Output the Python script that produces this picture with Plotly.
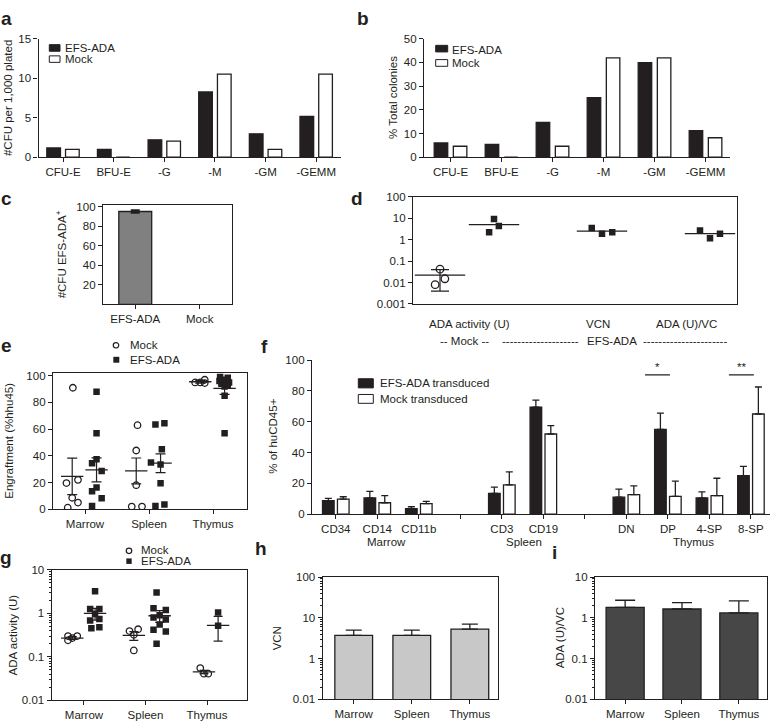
import plotly.graph_objects as go

# ===================== DATA =====================
# panel a : #CFU per 1,000 plated
A_CATS = ["CFU-E", "BFU-E", "-G", "-M", "-GM", "-GEMM"]
A_EFS = [1.17, 1.0, 2.2, 8.28, 2.96, 5.16]
A_MOCK = [1.0, 0.0, 2.04, 10.53, 1.0, 10.53]
A_YTICKS = [0, 5, 10, 15]

# panel b : % total colonies
B_CATS = ["CFU-E", "BFU-E", "-G", "-M", "-GM", "-GEMM"]
B_EFS = [6.0, 5.4, 14.7, 25.1, 39.9, 11.2]
B_MOCK = [4.6, 0.0, 4.6, 41.9, 41.9, 8.2]
B_YTICKS = [0, 10, 20, 30, 40, 50]

# panel c : #CFU EFS-ADA+
C_CATS = ["EFS-ADA", "Mock"]
C_VALS = [95.0, None]
C_ERR = [1.0, None]
C_YTICKS = [20, 40, 60, 80, 100]

# panel d : log scatter
D_SLOTS = ["Mock ADA", "EFS ADA", "", "EFS VCN", "", "EFS ADA/VC"]
D_MOCK_ADA = [0.042, 0.015, 0.008]
D_EFS_ADA = [2.2, 9.1, 4.3]
D_EFS_VCN = [3.5, 1.9, 2.2]
D_EFS_RATIO = [2.7, 1.17, 1.9]
D_MEANS = {"Mock ADA": 0.022, "EFS ADA": 5.0, "EFS VCN": 2.5, "EFS ADA/VC": 1.9}
D_MOCK_SD = 0.018
D_YTICKS = [0.001, 0.01, 0.1, 1, 10, 100]
D_YTEXT = ["0.001", "0.01", "0.1", "1", "10", "100"]

# panel e : engraftment
E_TISSUES = ["Marrow", "Spleen", "Thymus"]
E_MOCK = [[91, 22, 19.6, 8.6, 5, 1.2], [63, 44, 18, 2, 2], [95, 95, 97, 94.5]]
E_EFS = [[88, 57, 34.4, 37.5, 28.7, 16.3, 13.5, 8.3, 2.5],
         [63.4, 64.4, 45, 35, 33.5, 19.5, 2.5, 3.5],
         [99, 98.5, 97, 96, 95, 94, 93, 92, 85, 57]]
E_MOCK_MEAN = [24.6, 28.7, 95.5]
E_MOCK_SEM = [13.7, 9.7, 1.0]
E_EFS_MEAN = [29.5, 34.5, 90.5]
E_EFS_SEM = [9.0, 7.0, 4.5]
E_YTICKS = [0, 20, 40, 60, 80, 100]

# panel f : % of huCD45+
F_CATS = ["CD34", "CD14", "CD11b", "", "CD3", "CD19", "", "DN", "DP", "4-SP", "8-SP"]
F_EFS = [8.7, 10.5, 3.5, 13.5, 69.5, 11.0, 55.0, 10.5, 25.0]
F_EFS_ERR = [1.5, 4.3, 1.3, 4.0, 4.5, 5.3, 10.5, 4.0, 6.0]
F_MOCK = [9.8, 7.4, 6.8, 19.0, 52.0, 12.7, 11.5, 12.0, 65.0]
F_MOCK_ERR = [1.5, 4.6, 1.5, 8.5, 5.5, 5.7, 10.0, 11.3, 17.5]
F_GROUPS = ["Marrow", "Spleen", "Thymus"]
F_YTICKS = [0, 20, 40, 60, 80, 100]

# panel g : ADA activity (U)
G_TISSUES = ["Marrow", "Spleen", "Thymus"]
G_MOCK = [[0.24, 0.30, 0.27, 0.30], [0.39, 0.43, 0.32, 0.14], [0.055, 0.041, 0.041]]
G_EFS = [[3.2, 1.25, 1.25, 0.96, 0.68, 0.74, 0.455, 0.48],
         [3.0, 1.3, 1.2, 0.9, 0.8, 0.72, 0.55, 0.42, 0.38, 0.2],
         [1.05, 0.52]]
G_MOCK_MEAN = [0.27, 0.31, 0.045]
G_MOCK_SEM = [0.02, 0.07, 0.004]
G_EFS_MEAN = [1.0, 0.88, 0.53]
G_EFS_SEM_UP = [0.3, 0.27, 0.32]
G_EFS_SEM_DN = [0.3, 0.26, 0.30]
G_YTICKS = [0.01, 0.1, 1, 10]
G_YTEXT = ["0.01", "0.1", "1", "10"]

# panel h : VCN
H_CATS = ["Marrow", "Spleen", "Thymus"]
H_VALS = [3.7, 3.7, 5.3]
H_ERR = [1.3, 1.3, 1.75]
H_YTICKS = [0.1, 1, 10, 100]
H_YTEXT = ["0.01", "1", "10", "100"]

# panel i : ADA (U)/VC
I_CATS = ["Marrow", "Spleen", "Thymus"]
I_VALS = [1.8, 1.65, 1.32]
I_ERR = [0.9, 0.72, 1.28]
I_YTICKS = [0.01, 0.1, 1, 10]
I_YTEXT = ["0.01", "0.1", "1", "10"]

# ===================== STYLE / LAYOUT CONSTANTS =====================
W, H = 772, 726
FONT = "Liberation Sans, Arial, Helvetica, sans-serif"
INK = "#231f20"
FS = 11.5
LW = 1.3

# horizontal scatter offsets (jitter) inside each group, in category units
D_JIT = {"Mock ADA": [0.0, 0.09, -0.09], "EFS ADA": [-0.09, 0.0, 0.09],
         "EFS VCN": [-0.19, 0.0, 0.19], "EFS ADA/VC": [-0.185, 0.0, 0.185]}
E_MOCK_OFF, E_EFS_OFF = -0.2, 0.18
E_MOCK_JIT = [[0.01, 0.09, -0.09, 0, 0.09, -0.07], [0.02, 0, 0, -0.07, 0.09], [-0.08, 0, 0.07, 0.07]]
E_EFS_JIT = [[0, 0, -0.07, 0, 0.08, 0, -0.07, 0.08, -0.07],
             [-0.08, 0.06, 0.02, -0.15, 0, 0, -0.08, 0.06],
             [-0.07, 0.05, 0, -0.08, 0.07, -0.05, 0.05, 0, 0, 0]]
G_MOCK_OFF = [-0.19, -0.19, -0.05]
G_EFS_OFF = [0.18, 0.23, 0.18]
G_MOCK_JIT = [[-0.07, -0.07, 0, 0.08], [-0.07, 0.07, 0, 0], [-0.06, 0, 0.07]]
G_EFS_JIT = [[0, -0.08, 0.07, 0, -0.08, 0.07, -0.06, 0.07],
             [-0.05, -0.1, 0.1, 0, -0.1, 0.1, 0, -0.1, 0.1, -0.05],
             [0, 0]]


def X(px):
    return px / W


def Y(py):
    return 1 - py / H


def dom_x(l, r):
    return [X(l), X(r)]


def dom_y(top, bottom):
    return [Y(bottom), Y(top)]


fig = go.Figure()


def add_bar(ax, x, y, color, width, offset=None, err=None, err_minus=None, cap=3.5, thick=LW):
    kw = dict(x=x, y=y, xaxis="x" + ax, yaxis="y" + ax, width=width,
              marker=dict(color=color, line=dict(color=INK, width=LW)),
              showlegend=False, hoverinfo="skip")
    if offset is not None:
        kw["offset"] = offset
    if err is not None:
        kw["error_y"] = dict(type="data", array=err,
                             arrayminus=err_minus if err_minus is not None else [0] * len(err),
                             symmetric=False, color=INK, thickness=thick, width=cap)
    fig.add_trace(go.Bar(**kw))


def add_dots(ax, center, jit, vals, filled, size=6.5):
    fig.add_trace(go.Scatter(
        x=[center + j for j in jit], y=vals, xaxis="x" + ax, yaxis="y" + ax, mode="markers",
        marker=dict(symbol="square" if filled else "circle-open", size=size, color=INK,
                    line=dict(color=INK, width=0 if filled else 1.3)),
        showlegend=False, hoverinfo="skip"))


def add_mean(ax, center, mean, length, up=None, dn=None, cap=5):
    kw = dict(x=[center], y=[mean], xaxis="x" + ax, yaxis="y" + ax, mode="markers",
              marker=dict(symbol="line-ew", size=length, color=INK, line=dict(color=INK, width=LW)),
              showlegend=False, hoverinfo="skip")
    if up is not None:
        kw["error_y"] = dict(type="data", array=[up], arrayminus=[dn if dn is not None else up],
                             symmetric=False, color=INK, thickness=1.2, width=cap)
    fig.add_trace(go.Scatter(**kw))


# ---- a ----
add_bar("", A_CATS, A_EFS, INK, 0.27, offset=-0.32)
add_bar("", A_CATS, A_MOCK, "white", 0.27, offset=0.05)
# ---- b ----
add_bar("2", B_CATS, B_EFS, INK, 0.265, offset=-0.32)
add_bar("2", B_CATS, B_MOCK, "white", 0.265, offset=0.055)
# ---- c ----
add_bar("3", C_CATS, C_VALS, "#808080", 0.51, err=C_ERR, err_minus=C_ERR, cap=4.5, thick=2.5)
# ---- d ----
d_groups = {"Mock ADA": D_MOCK_ADA, "EFS ADA": D_EFS_ADA, "EFS VCN": D_EFS_VCN, "EFS ADA/VC": D_EFS_RATIO}
for name, vals in d_groups.items():
    pos = D_SLOTS.index(name)
    mock = name.startswith("Mock")
    add_dots("4", pos, D_JIT[name], vals, filled=not mock, size=7.5 if mock else 6.5)
for name in d_groups:
    pos = D_SLOTS.index(name)
    if name.startswith("Mock"):
        add_mean("4", pos, D_MEANS[name], 36, up=D_MOCK_SD, dn=D_MOCK_SD, cap=9)
    else:
        add_mean("4", pos, D_MEANS[name], 36)
# ---- e ----
for k in range(len(E_TISSUES)):
    add_dots("5", k + E_MOCK_OFF, E_MOCK_JIT[k], E_MOCK[k], filled=False)
    add_dots("5", k + E_EFS_OFF, E_EFS_JIT[k], E_EFS[k], filled=True)
for k in range(len(E_TISSUES)):
    add_mean("5", k + E_MOCK_OFF, E_MOCK_MEAN[k], 16, up=E_MOCK_SEM[k], cap=5)
    add_mean("5", k + E_EFS_OFF, E_EFS_MEAN[k], 16, up=E_EFS_SEM[k], cap=5)
# ---- f ----
f_pos = [i for i, c in enumerate(F_CATS) if c]
f_blank = [i for i, c in enumerate(F_CATS) if not c]
add_bar("6", f_pos, F_EFS, INK, 0.28, offset=-0.32, err=F_EFS_ERR, cap=3.5)
add_bar("6", f_pos, F_MOCK, "white", 0.28, offset=0.04, err=F_MOCK_ERR, cap=3.5)
# ---- g ----
for k in range(len(G_TISSUES)):
    add_dots("7", k + G_MOCK_OFF[k], G_MOCK_JIT[k], G_MOCK[k], filled=False)
    add_dots("7", k + G_EFS_OFF[k], G_EFS_JIT[k], G_EFS[k], filled=True)
for k in range(len(G_TISSUES)):
    add_mean("7", k + G_MOCK_OFF[k], G_MOCK_MEAN[k], 16, up=G_MOCK_SEM[k], cap=4.5)
    add_mean("7", k + G_EFS_OFF[k], G_EFS_MEAN[k], 16, up=G_EFS_SEM_UP[k], dn=G_EFS_SEM_DN[k], cap=4.5)
# ---- h ----
add_bar("8", H_CATS, H_VALS, "#c8c8c8", 0.65, err=H_ERR, cap=8)
# ---- i ----
add_bar("9", I_CATS, I_VALS, "#474747", 0.67, err=I_ERR, cap=10)

# ===================== AXES =====================
tickfont = dict(family=FONT, size=FS, color=INK)
base = dict(showline=True, linecolor=INK, linewidth=LW, ticks="outside", ticklen=4,
            tickwidth=LW, tickcolor=INK, showgrid=False, zeroline=False,
            tickfont=tickfont, fixedrange=True)
minor = dict(ticks="outside", ticklen=2, tickwidth=0.8, tickcolor=INK, dtick="D1", showgrid=False)

lay = {}
# a
lay["xaxis"] = dict(base, domain=dom_x(38.5, 341), anchor="y", type="category",
                    categoryorder="array", categoryarray=A_CATS, range=[-0.484, 5.49])
lay["yaxis"] = dict(base, domain=dom_y(33.5, 153.7), anchor="x", range=[0, 15], tickvals=A_YTICKS)
# b
lay["xaxis2"] = dict(base, domain=dom_x(424, 730), anchor="y2", type="category",
                     categoryorder="array", categoryarray=B_CATS, range=[-0.52, 5.48])
lay["yaxis2"] = dict(base, domain=dom_y(33.3, 153.7), anchor="x2", range=[0, 50], tickvals=B_YTICKS)
# c
lay["xaxis3"] = dict(base, domain=dom_x(103, 232), anchor="y3", type="category",
                     categoryorder="array", categoryarray=C_CATS, range=[-0.5, 1.5], mirror=True)
lay["yaxis3"] = dict(base, domain=dom_y(202.5, 303.3), anchor="x3", range=[0, 101.5],
                     tickvals=C_YTICKS, mirror=True)
# d
lay["xaxis4"] = dict(base, domain=dom_x(413, 737), anchor="y4", range=[-0.5, 5.5], mirror=True,
                     ticks="", showticklabels=False)
lay["yaxis4"] = dict(base, domain=dom_y(194, 303), anchor="x4", type="log", range=[-3, 2],
                     tickvals=D_YTICKS, ticktext=D_YTEXT, mirror=True)
# e
lay["xaxis5"] = dict(base, domain=dom_x(53, 247), anchor="y5", range=[-0.5, 2.53], mirror=True,
                     tickvals=list(range(len(E_TISSUES))), ticktext=E_TISSUES)
lay["yaxis5"] = dict(base, domain=dom_y(372.7, 511.7), anchor="x5", range=[0, 102.4],
                     tickvals=E_YTICKS, mirror=True)
# f
lay["xaxis6"] = dict(base, domain=dom_x(312, 770), anchor="y6", range=[-0.573, 10.46],
                     tickvals=f_pos, ticktext=[F_CATS[i] for i in f_pos],
                     minor=dict(tickmode="array", tickvals=f_blank, ticks="outside", ticklen=4,
                                tickwidth=LW, tickcolor=INK, showgrid=False))
lay["yaxis6"] = dict(base, domain=dom_y(360, 516.7), anchor="x6", range=[0, 100], tickvals=F_YTICKS)
# g
lay["xaxis7"] = dict(base, domain=dom_x(51.7, 246.7), anchor="y7", range=[-0.525, 2.645], mirror=True,
                     tickvals=list(range(len(G_TISSUES))), ticktext=G_TISSUES)
lay["yaxis7"] = dict(base, domain=dom_y(573.3, 706), anchor="x7", type="log", range=[-2, 1],
                     tickvals=G_YTICKS, ticktext=G_YTEXT, mirror=True, minor=minor)
# h
lay["xaxis8"] = dict(base, domain=dom_x(322.7, 498.3), anchor="y8", type="category",
                     categoryorder="array", categoryarray=H_CATS, range=[-0.534, 2.49], mirror=True)
lay["yaxis8"] = dict(base, domain=dom_y(580.7, 705), anchor="x8", type="log", range=[-1, 2],
                     tickvals=H_YTICKS, ticktext=H_YTEXT, mirror=True, minor=minor)
# i
lay["xaxis9"] = dict(base, domain=dom_x(595, 766.7), anchor="y9", type="category",
                     categoryorder="array", categoryarray=I_CATS, range=[-0.53, 2.49], mirror=True)
lay["yaxis9"] = dict(base, domain=dom_y(580.7, 705), anchor="x9", type="log", range=[-2, 1],
                     tickvals=I_YTICKS, ticktext=I_YTEXT, mirror=True, minor=minor)

# ===================== TEXT =====================
ann = []


def txt(s, px, py, size=FS, anchor="center", angle=0, bold=False):
    ann.append(dict(text=("<b>%s</b>" % s) if bold else s, x=X(px), y=Y(py), xref="paper", yref="paper",
                    xanchor=anchor, yanchor="middle", showarrow=False, textangle=angle,
                    font=dict(family=FONT, size=size, color=INK)))


# panel letters
for s, px, py in [("a", 6, 12.5), ("b", 363, 12.5), ("c", 7, 196), ("d", 357, 196), ("e", 6, 345),
                  ("f", 264, 346), ("g", 6, 561), ("h", 261, 552), ("i", 554, 556)]:
    txt(s, px, py, size=19, bold=True)

# axis titles
txt("#CFU per 1,000 plated", 8, 93.6, angle=-90)
txt("% Total colonies", 393, 93.5, angle=-90)
txt("#CFU EFS-ADA<sup>+</sup>", 61, 252.5, angle=-90)
txt("Engraftment (%hhu45)", 9, 442, angle=-90)
txt("% of huCD45+", 273, 438, angle=-90)
txt("ADA activity (U)", 13, 640, angle=-90)
txt("VCN", 277, 643, angle=-90)
txt("ADA (U)/VC", 560, 643, angle=-90)

# d category captions
txt("ADA activity (U)", 469, 323)
txt("VCN", 597.5, 323)
txt("ADA (U)/VC", 686.5, 323)
txt("-- Mock --", 464, 341)
txt("-" * 20, 540, 341)
txt("EFS-ADA", 611.5, 341)
txt("-" * 22, 685, 341)

# f group captions
for s, px in zip(F_GROUPS, [386.7, 524, 693]):
    txt(s, px, 545)

# legends (text)
txt("EFS-ADA", 62.7, 42.7, anchor="left")
txt("Mock", 62.7, 54.3, anchor="left")
txt("EFS-ADA", 450, 44.3, anchor="left")
txt("Mock", 450, 58.3, anchor="left")
txt("Mock", 128.3, 345, anchor="left")
txt("EFS-ADA", 128.3, 359.5, anchor="left")
txt("EFS-ADA transduced", 378.3, 383.7, anchor="left")
txt("Mock transduced", 378.3, 400, anchor="left")
txt("Mock", 139.3, 553.5, anchor="left")
txt("EFS-ADA", 139.3, 564.3, anchor="left")

# significance stars (f axis coordinates)
for s, xc in [("*", 7.74), ("**", 9.78)]:
    ann.append(dict(text=s, x=xc, y=95.5, xref="x6", yref="y6", showarrow=False,
                    xanchor="center", yanchor="middle", font=dict(family=FONT, size=FS, color=INK)))

shapes = []


def rect(l, t, r, b, fill, lw=1.0):
    shapes.append(dict(type="rect", xref="paper", yref="paper", x0=X(l), x1=X(r), y0=Y(b), y1=Y(t),
                       fillcolor=fill, line=dict(color=INK, width=lw)))


def circ(cx, cy, d):
    shapes.append(dict(type="circle", xref="paper", yref="paper", x0=X(cx - d / 2), x1=X(cx + d / 2),
                       y0=Y(cy + d / 2), y1=Y(cy - d / 2), fillcolor="white", line=dict(color=INK, width=1.2)))


rect(49.3, 39.3, 60, 46, INK)
rect(49.3, 50.7, 60, 57.3, "white")
rect(435.7, 40, 447.7, 46.7, INK)
rect(435.7, 54.5, 447.7, 61.3, "white")
circ(116, 345, 5.5)
rect(113.3, 356.7, 119.3, 362.7, INK, lw=0)
rect(358.3, 379, 373.3, 388.3, INK)
rect(358.3, 395, 373.3, 404, "white")
circ(129, 554, 5.5)
rect(126.3, 561.7, 131.7, 567.3, INK, lw=0)

for x0, x1 in [(7.45, 8.05), (9.47, 10.07)]:
    shapes.append(dict(type="line", xref="x6", yref="y6", x0=x0, x1=x1, y0=90.4, y1=90.4,
                       line=dict(color=INK, width=1.2)))

fig.update_layout(
    width=W, height=H, margin=dict(l=0, r=0, t=0, b=0),
    paper_bgcolor="white", plot_bgcolor="white", showlegend=False,
    barmode="overlay", font=dict(family=FONT, size=FS, color=INK),
    annotations=ann, shapes=shapes, **lay)

# remove the browser's default 8px body margin so the 772x726 figure fills the window exactly
fig.write_html("out.html", config={"displayModeBar": False},
               post_script="document.body.style.margin='0px';")
